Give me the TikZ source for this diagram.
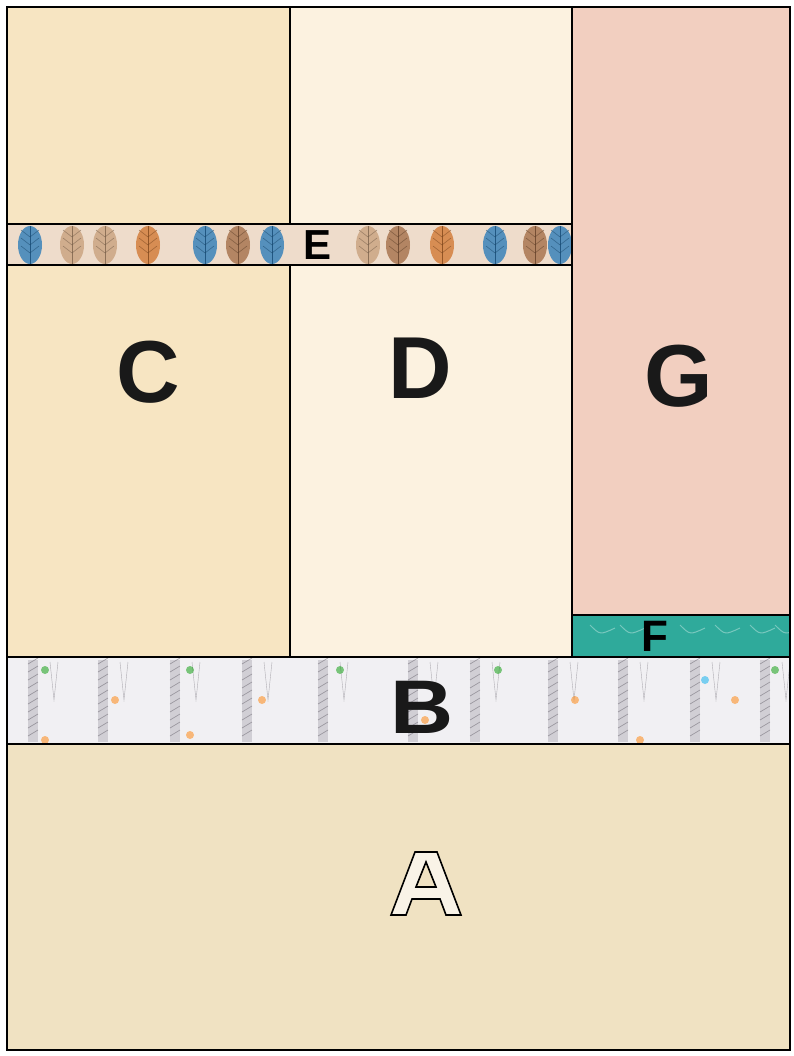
\documentclass[tikz,border=0pt]{standalone}
\usepackage{fontspec}
\setmainfont{Liberation Sans}
\definecolor{cfab}{HTML}{F7E5C2}
\definecolor{dfab}{HTML}{FCF2E0}
\definecolor{gfab}{HTML}{F2CFC0}
\definecolor{afab}{HTML}{F0E2C2}
\definecolor{ffab}{HTML}{2FAA9B}
\definecolor{bfab}{HTML}{F1F0F3}
\definecolor{efab}{HTML}{EEDCCB}
\definecolor{fblue}{HTML}{2F7DB9}
\definecolor{forange}{HTML}{D27A36}
\definecolor{ftan}{HTML}{C9A27E}
\definecolor{fbrown}{HTML}{A5704A}
\definecolor{fgrey}{HTML}{8A8590}
\tikzset{
  seam/.style={draw=black, line width=2pt},
  biglabel/.style={font=\bfseries\fontsize{88}{88}\selectfont, text=black!90, inner sep=0pt},
  smalllabel/.style={font=\bfseries\fontsize{44}{44}\selectfont, text=black, inner sep=0pt},
  feather/.style={opacity=0.8}
}
\begin{document}
\begin{tikzpicture}[x=1pt,y=-1pt]
\useasboundingbox (0,0) rectangle (794,1056);
\fill[white] (0,0) rectangle (794,1056);
% fabrics
\fill[cfab] (7,7) rectangle (290,657);
\fill[dfab] (290,7) rectangle (572,657);
\fill[gfab] (572,7) rectangle (790,615);
\fill[ffab] (572,615) rectangle (790,657);
\fill[bfab] (7,657) rectangle (790,744);
\fill[afab] (7,744) rectangle (790,1050);
\fill[efab] (7,224) rectangle (572,265);
% E strip feathers
\begin{scope}
\clip (7,224) rectangle (572,265);
\foreach \x/\c in {30/fblue,72/ftan,105/ftan,148/forange,205/fblue,238/fbrown,272/fblue,368/ftan,398/fbrown,442/forange,495/fblue,535/fbrown,560/fblue}{
  \fill[\c,feather] (\x,245) ellipse (12pt and 19pt);
  \draw[\c!70!black,line width=1pt] (\x,226) -- (\x,264);
  \foreach \d in {-8,0,8}{
    \draw[\c!60!black,opacity=0.6,line width=0.6pt] (\x,245+\d) -- (\x-9,238+\d);
    \draw[\c!60!black,opacity=0.6,line width=0.6pt] (\x,245+\d) -- (\x+9,238+\d);
  }
}
\end{scope}
% F texture
\begin{scope}
\clip (572,615) rectangle (790,657);
\foreach \x in {590,620,680,715,750,775}{
  \draw[white,opacity=0.35,line width=1pt] (\x,625) .. controls (\x+10,635) .. (\x+25,628);
}
\end{scope}
% B stripes and dots
\begin{scope}
\clip (7,657) rectangle (790,744);
\foreach \x in {28,98,170,242,318,408,470,548,618,690,760}{
  \fill[fgrey,opacity=0.3] (\x,660) rectangle (\x+10,742);
  \foreach \y in {664,672,...,740}{
    \draw[fgrey!80!black,opacity=0.55,line width=0.7pt] (\x,\y) -- (\x+10,\y-6);
  }
  \draw[fgrey!80!black,opacity=0.5] (\x+22,662) -- (\x+26,700) -- (\x+30,662);
}
\foreach \x/\y/\c in {45/670/green!60!black,45/740/orange,115/700/orange,190/670/green!60!black,190/735/orange,262/700/orange,340/670/green!60!black,425/720/orange,498/670/green!60!black,575/700/orange,640/740/orange,705/680/cyan,735/700/orange,775/670/green!60!black}{
  \fill[\c,opacity=0.5] (\x,\y) circle (4pt);
}
\end{scope}
% seams
\draw[seam] (290,7) -- (290,224);
\draw[seam] (290,265) -- (290,657);
\draw[seam] (572,7) -- (572,657);
\draw[seam] (7,224) -- (572,224);
\draw[seam] (7,265) -- (572,265);
\draw[seam] (572,615) -- (790,615);
\draw[seam] (7,657) -- (790,657);
\draw[seam] (7,744) -- (790,744);
\draw[draw=black, line width=2.6pt] (7,7) rectangle (790,1050);
% labels
\node[biglabel] (lc) at (148,372) {C};
\node[biglabel] (ld) at (420,368) {D};
\node[biglabel] (lg) at (679,376) {G};
\node[biglabel, font=\bfseries\fontsize{76}{76}\selectfont, xscale=1.15] (lb) at (422,707) {B};
\node[smalllabel, font=\bfseries\fontsize{42}{42}\selectfont] (le) at (318,245) {E};
\node[smalllabel] (lf) at (655,636) {F};
% outlined A
\draw[black, line width=1.6pt, fill=white!60!afab, even odd rule]
  (415,852) -- (437,852) -- (461,915) -- (446,915) -- (440,899) -- (412,899) -- (406,915) -- (391,915) -- cycle
  (416,887) -- (436,887) -- (426,862) -- cycle;
\node[inner sep=0pt] (la) at (426,883) {};
\end{tikzpicture}
\end{document}
